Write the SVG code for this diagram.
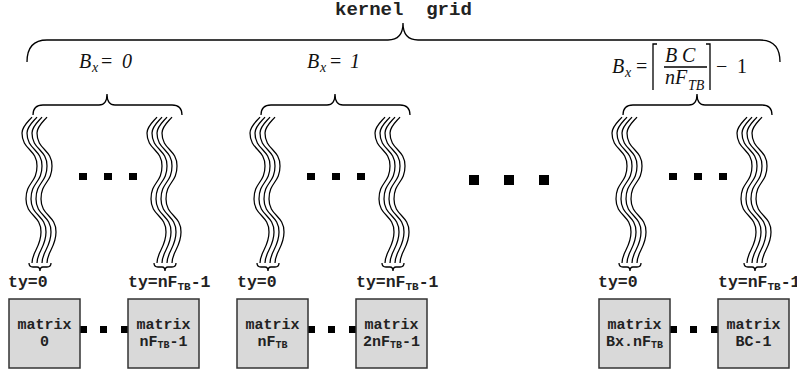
<svg xmlns="http://www.w3.org/2000/svg" xmlns:xlink="http://www.w3.org/1999/xlink" width="797" height="372" viewBox="0 0 797 372">
<style>
.ln{fill:none;stroke:#000;stroke-width:1.3}
.wv{fill:none;stroke:#000;stroke-width:1.25}
.box{fill:#d9d9d9;stroke:#333;stroke-width:1.5}
.mono{font-family:"Liberation Mono","Courier New",monospace;font-weight:bold;fill:#222}
.title{font-size:19px;white-space:pre}
.ty{font-size:16.5px}
.bx{font-size:15px;text-anchor:middle}
.sub{font-size:10px}
.tsub{font-size:11px}
.math{font-family:"Liberation Serif","Times New Roman",serif;font-size:20px;fill:#111}
.it{font-style:italic}
.dot{fill:#000}
</style>
<defs>
<path id="wave" class="wv" d="M32,117 C29,121 22,126 22,133 C22,150 37,149 37,166 C37,183 26,182 26,199 C26,216 41,215 41,232 C41,247 32,252 32,263"/>
<g id="bundle">
<use xlink:href="#wave"/>
<use xlink:href="#wave" x="5"/>
<use xlink:href="#wave" x="10"/>
<use xlink:href="#wave" x="15"/>
<path class="ln" d="M29,263 Q29,267 33,267 L37,267 Q40,267 40,271 Q40,267 43,267 L47,267 Q51,267 51,263"/>
</g>
<path id="gbrace" class="ln" d="M33,115 Q33,105 43,105 L99,105 Q107,105 107,94 Q107,105 115,105 L172,105 Q182,105 182,115"/>
<g id="sdots">
<rect class="dot" x="79" y="173" width="8" height="7"/>
<rect class="dot" x="104" y="173" width="8" height="7"/>
<rect class="dot" x="129" y="173" width="8" height="7"/>
</g>
<g id="bdots">
<rect class="dot" x="80" y="326" width="7" height="7"/>
<rect class="dot" x="100" y="326" width="7" height="7"/>
<rect class="dot" x="121" y="326" width="7" height="7"/>
</g>
</defs>

<text id="title" class="mono title" x="335" y="15">kernel  grid</text>

<g id="connectors">
<path class="ln" d="M27,62 C27,48 33,40 47,40 L388,40 Q403,40 403,23 Q403,40 418,40 L760,40 C774,40 780,48 780,62"/>
<use xlink:href="#gbrace"/>
<use xlink:href="#gbrace" x="228"/>
<use xlink:href="#gbrace" x="590"/>
<use xlink:href="#bundle"/>
<use xlink:href="#bundle" x="125"/>
<use xlink:href="#bundle" x="228"/>
<use xlink:href="#bundle" x="353"/>
<use xlink:href="#bundle" x="590"/>
<use xlink:href="#bundle" x="715"/>
<use xlink:href="#sdots"/>
<use xlink:href="#sdots" x="228"/>
<use xlink:href="#sdots" x="590"/>
<rect class="dot" x="469" y="175" width="10" height="10"/>
<rect class="dot" x="504" y="175" width="10" height="10"/>
<rect class="dot" x="539" y="175" width="10" height="10"/>
<use xlink:href="#bdots"/>
<use xlink:href="#bdots" x="228"/>
<use xlink:href="#bdots" x="590"/>
</g>

<g id="label-bx0">
<text class="math"><tspan class="it" x="79" y="68">B</tspan><tspan class="it" x="92" y="72" font-size="14">x</tspan><tspan x="101" y="68">=</tspan><tspan class="it" x="122" y="68">0</tspan></text>
</g>
<g id="label-bx1">
<text class="math"><tspan class="it" x="307" y="68">B</tspan><tspan class="it" x="320" y="72" font-size="14">x</tspan><tspan x="330" y="68">=</tspan><tspan class="it" x="350" y="68">1</tspan></text>
</g>
<g id="label-bxlast">
<text class="math"><tspan class="it" x="612" y="73">B</tspan><tspan class="it" x="625" y="77" font-size="14">x</tspan><tspan x="636" y="73">=</tspan></text>
<path class="ln" d="M657,44 L653,44 L653,90 M706,44 L710,44 L710,90 M664,67 L707,67"/>
<text class="math it"><tspan x="665" y="62">B</tspan><tspan x="682" y="62">C</tspan><tspan x="665" y="84">nF</tspan><tspan x="688" y="90" font-size="14">TB</tspan></text>
<text class="math"><tspan x="716" y="73">−</tspan><tspan x="737" y="73">1</tspan></text>
</g>

<g id="ty-labels">
<text class="mono ty" x="8" y="287">ty=0</text>
<text class="mono ty" x="128" y="287">ty=nF<tspan class="tsub" dy="3">TB</tspan><tspan dy="-3">-1</tspan></text>
<text class="mono ty" x="237" y="287">ty=0</text>
<text class="mono ty" x="356" y="287">ty=nF<tspan class="tsub" dy="3">TB</tspan><tspan dy="-3">-1</tspan></text>
<text class="mono ty" x="598" y="287">ty=0</text>
<text class="mono ty" x="718" y="287">ty=nF<tspan class="tsub" dy="3">TB</tspan><tspan dy="-3">-1</tspan></text>
</g>

<g id="matrix-0">
<rect class="box" x="9" y="299" width="71" height="69"/>
<text class="mono bx" x="44.5" y="329">matrix</text>
<text class="mono bx" x="44.5" y="346">0</text>
</g>
<g id="matrix-nftb-1">
<rect class="box" x="128" y="299" width="71" height="69"/>
<text class="mono bx" x="163.5" y="329">matrix</text>
<text class="mono bx" x="163.5" y="346">nF<tspan class="sub" dy="2">TB</tspan><tspan dy="-2">-1</tspan></text>
</g>
<g id="matrix-nftb">
<rect class="box" x="237" y="299" width="71" height="69"/>
<text class="mono bx" x="272.5" y="329">matrix</text>
<text class="mono bx" x="272.5" y="346">nF<tspan class="sub" dy="2">TB</tspan></text>
</g>
<g id="matrix-2nftb-1">
<rect class="box" x="356" y="299" width="71" height="69"/>
<text class="mono bx" x="391.5" y="329">matrix</text>
<text class="mono bx" x="391.5" y="346">2nF<tspan class="sub" dy="2">TB</tspan><tspan dy="-2">-1</tspan></text>
</g>
<g id="matrix-bx-nftb">
<rect class="box" x="599" y="299" width="71" height="69"/>
<text class="mono bx" x="634.5" y="329">matrix</text>
<text class="mono bx" x="634.5" y="346">Bx.nF<tspan class="sub" dy="2">TB</tspan></text>
</g>
<g id="matrix-bc-1">
<rect class="box" x="718" y="299" width="71" height="69"/>
<text class="mono bx" x="753.5" y="329">matrix</text>
<text class="mono bx" x="753.5" y="346">BC-1</text>
</g>
</svg>
